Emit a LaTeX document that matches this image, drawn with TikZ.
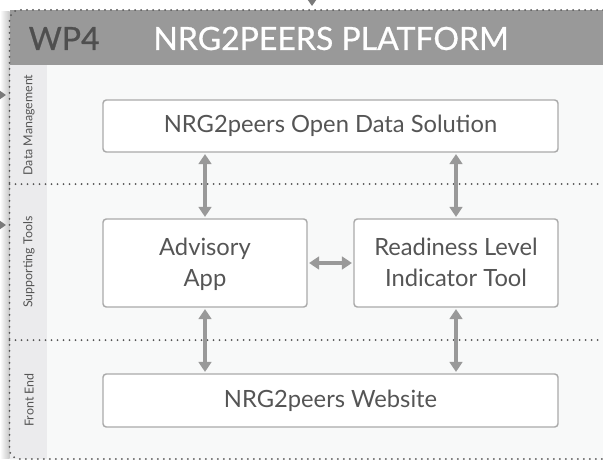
\documentclass[tikz,border=0pt]{standalone}
\usepackage{fontspec}
\setmainfont{Lato}
\usetikzlibrary{arrows.meta}
\definecolor{hdr}{HTML}{999999}
\definecolor{lane}{HTML}{EBEBED}
\definecolor{bgc}{HTML}{F8F9F9}
\definecolor{txt}{HTML}{555555}
\definecolor{wpc}{HTML}{4F4F4F}
\definecolor{boxline}{HTML}{AAAAAA}
\definecolor{arr}{HTML}{999999}
\definecolor{dotc}{HTML}{555555}
\tikzset{
  box/.style={draw=boxline, line width=1.1pt, fill=white, rounded corners=2.5pt,
    text=txt, align=center, font=\fontsize{17.8}{23.5}\selectfont, inner sep=0pt},
  link/.style={draw=arr, line width=2.4pt, {Triangle[width=9.5pt,length=7.5pt]}-{Triangle[width=9.5pt,length=7.5pt]}, shorten <=1pt, shorten >=1pt},
  dotline/.style={draw=dotc, line width=1.5pt, dash pattern=on 0pt off 4.5pt, line cap=round},
  lanelabel/.style={rotate=90, text=txt, font=\fontsize{9.3}{11}\selectfont},
  hdrtext/.style={font=\fontsize{24}{30}\selectfont\addfontfeature{FakeBold=0.7}},
  ext/.style={draw=arr!80!black, line width=1pt, -{Triangle[width=6pt,length=4.5pt]}}
}
\begin{document}
\begin{tikzpicture}[x=0.75pt,y=-0.75pt]
\useasboundingbox (0,0) rectangle (603,460);
% left shadow
\shade[left color=white, right color=black!22] (0,12) rectangle (9.5,458);
% background
\fill[bgc] (9.5,10) rectangle (603,460);
\fill[lane] (9.5,65) rectangle (47,459);
\fill[hdr] (9.5,10) rectangle (603,65);
% header texts
\node[hdrtext, text=wpc, anchor=west] (wp) at (24,38.5) {WP4};
\node[hdrtext, text=white] (title) at (331,38.5) {NRG2PEERS PLATFORM};
% lane separators
\coordinate (s1l) at (9.5,184); \coordinate (s1r) at (603,184);
\coordinate (s2l) at (9.5,340); \coordinate (s2r) at (603,340);
\draw[dotline] (s1l) -- (s1r);
\draw[dotline] (s2l) -- (s2r);
% frame
\draw[dotline, rounded corners=7.5pt] (603,10) -- (9.5,10) -- (9.5,459) -- (603,459);
% lane labels
\node[lanelabel] (l1) at (29,125) {Data Management};
\node[lanelabel] (l2) at (29,262) {Supporting Tools};
\node[lanelabel] (l3) at (29,400) {Front End};
% boxes
\node[box, minimum width=455*0.75pt, minimum height=52*0.75pt] (data) at (330.5,126) {NRG2peers Open Data Solution};
\node[box, minimum width=204*0.75pt, minimum height=88*0.75pt, text depth=1.5pt] (adv) at (205,263) {Advisory\\App};
\node[box, minimum width=204*0.75pt, minimum height=88*0.75pt, text depth=1.5pt] (rli) at (456,263) {Readiness Level\\Indicator Tool};
\node[box, minimum width=455*0.75pt, minimum height=53*0.75pt] (web) at (330.5,400.5) {NRG2peers Website};
% links
\draw[link] (data.south -| adv.north) -- (adv.north);
\draw[link] (data.south -| rli.north) -- (rli.north);
\draw[link] (adv.south) -- (web.north -| adv.south);
\draw[link] (rli.south) -- (web.north -| rli.south);
\draw[link] (adv.east) -- (rli.west);
% external arrow ends
\coordinate (t0) at (312,-6); \coordinate (t1) at (312,6);
\coordinate (a0) at (-8,95); \coordinate (a1) at (6,95);
\coordinate (b0) at (-8,225); \coordinate (b1) at (6,225);
\draw[ext] (t0) -- (t1);
\draw[ext] (a0) -- (a1);
\draw[ext] (b0) -- (b1);
\end{tikzpicture}
\end{document}
